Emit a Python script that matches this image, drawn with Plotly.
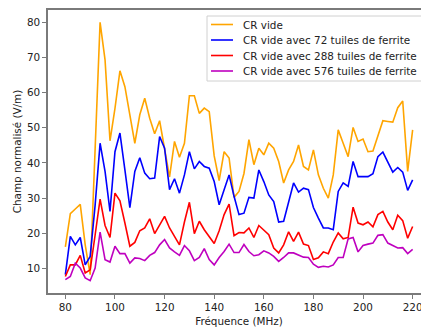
import plotly.graph_objects as go

freq_mhz = list(range(80, 222, 2))

cr_vide = [16.1, 25.6, 26.9, 28.2, 16.7, 8.2, 44.0, 80.0, 69.3, 46.3,
           55.5, 66.2, 61.7, 53.7, 45.6, 53.7, 58.4, 52.7, 48.3, 52.0,
           44.0, 36.0, 46.1, 41.6, 45.6, 59.1, 59.1, 54.1, 55.6, 54.6,
           42.0, 35.0, 43.2, 41.4, 30.2, 31.9, 37.0, 46.6, 39.5, 44.2,
           42.3, 45.6, 44.2, 40.4, 34.3, 38.0, 40.4, 45.1, 39.0, 38.0,
           43.7, 36.6, 32.8, 30.0, 36.6, 49.4, 45.6, 41.8, 50.1, 46.1,
           46.8, 43.2, 43.4, 47.5, 52.0, 51.8, 51.6, 55.7, 57.6, 37.6,
           49.4]

cr_72 = [8.2, 19.1, 16.7, 18.8, 11.0, 13.4, 28.0, 45.6, 37.6, 26.2,
         43.2, 48.5, 38.0, 27.3, 37.6, 41.5, 37.1, 35.5, 35.7, 47.5,
         44.2, 32.4, 35.5, 31.4, 36.6, 43.2, 38.3, 40.4, 39.0, 38.5,
         34.7, 28.1, 32.4, 36.6, 30.5, 25.3, 25.7, 30.2, 30.0, 38.0,
         34.7, 30.9, 29.0, 23.2, 23.4, 29.0, 34.3, 31.7, 32.8, 32.4,
         27.3, 24.3, 21.5, 21.5, 21.0, 31.9, 34.3, 33.3, 40.4, 36.1,
         36.1, 36.1, 36.9, 41.8, 43.1, 40.4, 37.4, 38.7, 37.4, 32.2,
         35.2]

cr_288 = [7.7, 11.0, 11.0, 13.7, 8.7, 9.6, 19.5, 29.7, 22.2, 18.8,
          31.4, 29.2, 22.9, 16.3, 17.4, 20.7, 21.5, 24.1, 19.9, 22.2,
          24.8, 21.5, 19.1, 16.7, 23.2, 28.8, 19.9, 23.4, 21.0, 19.1,
          17.1, 20.7, 25.3, 28.3, 19.3, 20.2, 20.1, 21.5, 18.8, 22.2,
          21.0, 19.6, 15.8, 14.4, 16.7, 20.4, 17.7, 20.3, 16.9, 16.5,
          12.5, 13.0, 14.7, 14.2, 17.5, 20.1, 18.4, 18.8, 27.4, 22.9,
          22.4, 23.2, 21.8, 25.3, 26.2, 23.2, 21.0, 25.1, 23.6, 18.6,
          21.9]

cr_576 = [6.8, 7.7, 11.5, 10.1, 7.3, 6.5, 10.1, 20.3, 12.5, 11.8,
          16.3, 14.2, 14.2, 11.5, 13.0, 12.8, 12.2, 13.7, 14.5, 16.7,
          18.2, 15.8, 14.7, 13.7, 16.5, 15.0, 12.2, 13.1, 15.6, 12.5,
          11.0, 13.1, 14.8, 16.9, 14.5, 14.5, 16.8, 14.8, 13.6, 13.9,
          15.0, 14.4, 13.4, 12.0, 13.1, 14.4, 14.4, 13.7, 13.2, 13.1,
          11.2, 10.3, 10.6, 10.4, 11.0, 13.1, 13.1, 18.4, 18.8, 14.7,
          16.5, 16.9, 17.2, 19.4, 19.6, 17.2, 16.5, 15.8, 15.9, 14.2,
          15.4]

series_names = ["CR vide",
                "CR vide avec 72 tuiles de ferrite",
                "CR vide avec 288 tuiles de ferrite",
                "CR vide avec 576 tuiles de ferrite"]
series_colors = ["#FFA500", "#0000FF", "#FF0000", "#BF00BF"]
series_values = [cr_vide, cr_72, cr_288, cr_576]

x_ticks = [80, 100, 120, 140, 160, 180, 200, 220]
y_ticks = [10, 20, 30, 40, 50, 60, 70, 80]

# figure is wider than the 421px window; the right part is cropped like the reference
W, H = 430, 327
ML, MR, MT, MB = 48, 0, 10, 34
PW, PH = W - ML - MR, H - MT - MB
FS = 10.4


def px_x(px):
    return (px - ML) / PW


def px_y(py):
    return 1 - (py - MT) / PH


fig = go.Figure()
for name, color, vals in zip(series_names, series_colors, series_values):
    fig.add_trace(go.Scatter(x=freq_mhz, y=vals, mode="lines", name=name,
                             line=dict(color=color, width=1.6),
                             showlegend=False))

axis_color = "#7a7a7a"
text_color = "#222222"
font_family = "DejaVu Sans"

# custom legend box (matplotlib style)
shapes = [dict(type="rect", xref="paper", yref="paper",
               x0=px_x(207), x1=px_x(425), y0=px_y(81), y1=px_y(16),
               line=dict(color="#d0d0d0", width=1),
               fillcolor="rgba(255,255,255,0.85)", layer="above")]
annotations = []
row_y = [24.5, 40, 55.5, 71]
for name, color, ry in zip(series_names, series_colors, row_y):
    shapes.append(dict(type="line", xref="paper", yref="paper",
                       x0=px_x(211), x1=px_x(233), y0=px_y(ry), y1=px_y(ry),
                       line=dict(color=color, width=1.6), layer="above"))
    annotations.append(dict(xref="paper", yref="paper", x=px_x(241), y=px_y(ry),
                            xanchor="left", yanchor="middle", showarrow=False,
                            text=name, font=dict(family=font_family, size=FS,
                                                 color=text_color)))

fig.update_layout(
    width=W, height=H,
    margin=dict(l=ML, r=MR, t=MT, b=MB, autoexpand=False),
    paper_bgcolor="white", plot_bgcolor="white",
    font=dict(family=font_family, size=FS, color=text_color),
    showlegend=False,
    shapes=shapes,
    annotations=annotations,
    xaxis=dict(range=[73, 227], tickvals=x_ticks, showgrid=False, zeroline=False,
               showline=True, linecolor=axis_color, linewidth=1.6, mirror=True,
               ticks="outside", ticklen=4, tickwidth=1.2, tickcolor=axis_color,
               tickfont=dict(family=font_family, size=FS, color=text_color),
               title=dict(text="Fréquence (MHz)", standoff=6,
                          font=dict(family=font_family, size=FS, color=text_color))),
    yaxis=dict(range=[3.0, 83.5], tickvals=y_ticks, showgrid=False, zeroline=False,
               showline=True, linecolor=axis_color, linewidth=1.6, mirror=True,
               ticks="outside", ticklen=4, tickwidth=1.2, tickcolor=axis_color,
               tickfont=dict(family=font_family, size=FS, color=text_color),
               title=dict(text="Champ normalisé (V/m)", standoff=3,
                          font=dict(family=font_family, size=FS, color=text_color))),
)

fig.write_html("out.html", config={"displayModeBar": False},
               post_script="document.body.style.margin='0';document.body.style.overflow='hidden';")
